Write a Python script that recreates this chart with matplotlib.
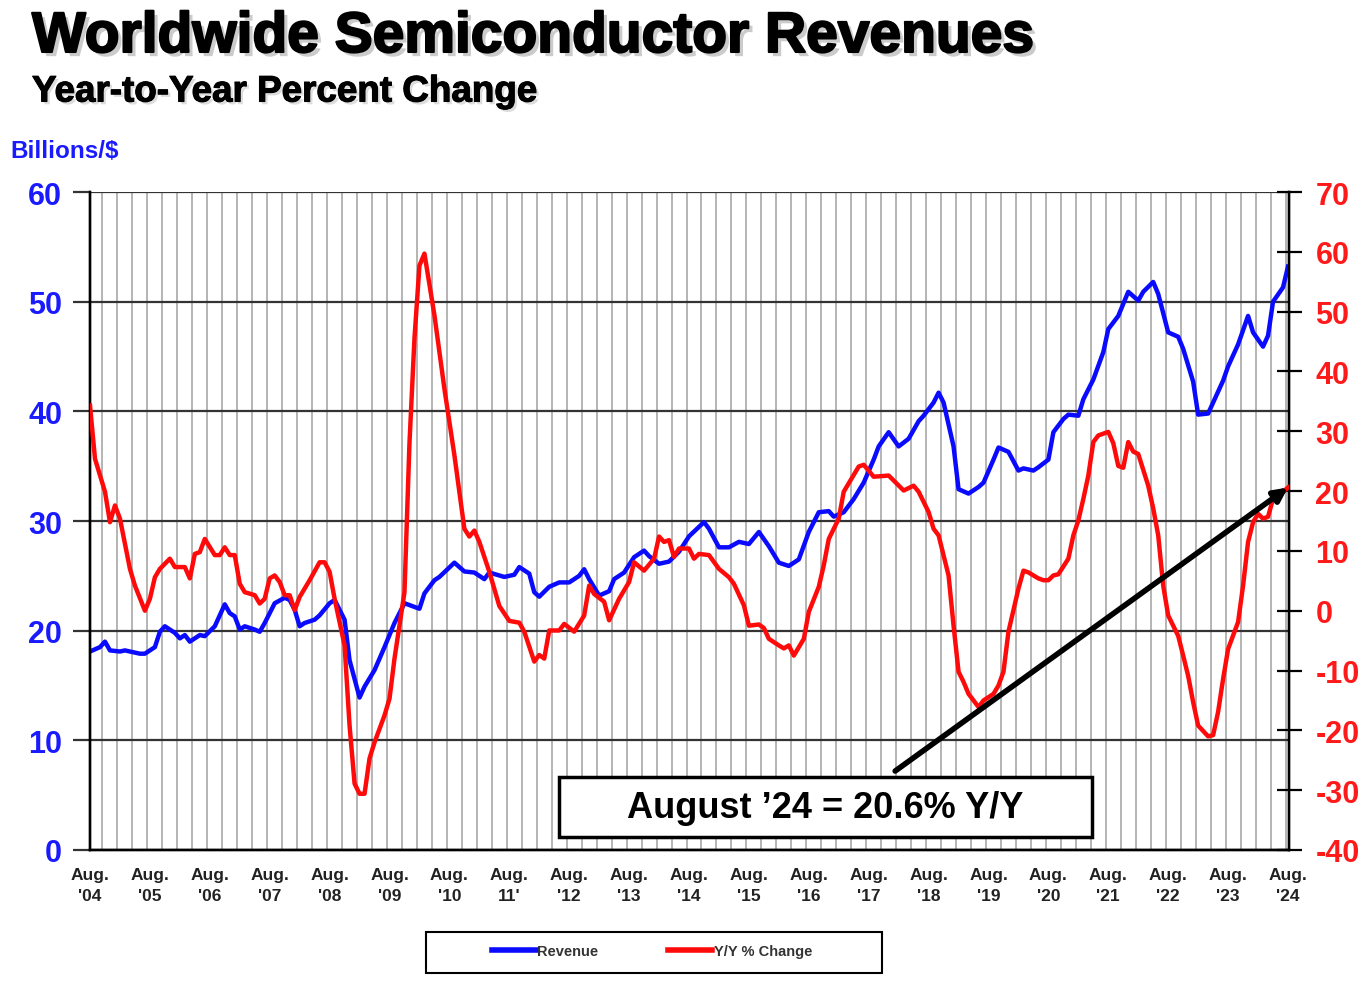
import matplotlib
matplotlib.use('Agg')
import matplotlib.pyplot as plt
import matplotlib.patheffects as pe
from matplotlib.patches import Rectangle
from matplotlib.lines import Line2D

# months counted from Aug 2004 (0) to Aug 2024 (240)
rev_month = [0, 2, 3, 4, 6, 7, 9, 10, 11, 13, 14, 15, 17, 18, 19, 20, 22, 23, 25, 27, 28, 29, 30, 31, 33, 34, 35,
             37, 39, 40, 41, 42, 43, 45, 46, 48, 49, 51, 52, 54, 55, 57, 59, 61, 63, 66, 67, 69, 70, 73, 75, 77,
             79, 80, 83, 85, 86, 88, 89, 90, 92, 94, 96, 98, 99, 100, 102, 104, 105, 107, 109, 111, 112, 114, 116,
             118, 120, 123, 124, 126, 128, 130, 132, 134, 136, 138, 140, 142, 144, 146, 148, 149, 151, 153, 155,
             157, 158, 160, 162, 164, 166, 167, 169, 170, 171, 173, 174, 176, 178, 179, 181, 182, 184, 186, 187,
             189, 190, 192, 193, 195, 196, 198, 199, 201, 203, 204, 206, 208, 210, 211, 213, 214, 216, 218, 219,
             221, 222, 224, 225, 227, 228, 230, 232, 233, 235, 236, 237, 239, 240]
revenue = [18.1, 18.5, 19.0, 18.2, 18.1, 18.2, 18.0, 17.9, 17.9, 18.5, 19.9, 20.4, 19.8, 19.3, 19.6, 19.0, 19.6,
           19.5, 20.4, 22.4, 21.6, 21.3, 20.1, 20.4, 20.1, 19.9, 20.7, 22.5, 23.0, 22.8, 21.9, 20.4, 20.7, 21.0,
           21.4, 22.5, 22.8, 21.0, 17.3, 13.9, 14.9, 16.4, 18.5, 20.7, 22.5, 22.0, 23.4, 24.6, 24.9, 26.2, 25.4,
           25.3, 24.7, 25.3, 24.9, 25.1, 25.8, 25.2, 23.5, 23.1, 24.0, 24.4, 24.4, 25.0, 25.6, 24.7, 23.2, 23.6,
           24.7, 25.3, 26.7, 27.3, 26.8, 26.1, 26.3, 27.2, 28.6, 29.9, 29.3, 27.6, 27.6, 28.1, 27.9, 29.0, 27.7,
           26.2, 25.9, 26.5, 29.0, 30.8, 30.9, 30.4, 30.8, 32.0, 33.5, 35.6, 36.8, 38.1, 36.8, 37.5, 39.1, 39.6,
           40.8, 41.7, 40.8, 36.8, 32.9, 32.5, 33.1, 33.5, 35.6, 36.7, 36.3, 34.6, 34.8, 34.6, 34.9, 35.6, 38.1,
           39.3, 39.7, 39.6, 41.1, 42.9, 45.4, 47.5, 48.7, 50.9, 50.1, 50.9, 51.8, 50.7, 47.2, 46.8, 45.7, 42.7,
           39.7, 39.8, 40.8, 42.8, 44.1, 46.1, 48.7, 47.2, 45.9, 46.9, 50.0, 51.3, 53.2]

yoy_month = [0, 1, 3, 4, 5, 6, 8, 9, 11, 12, 13, 14, 16, 17, 19, 20, 21, 22, 23, 25, 26, 27, 28, 29, 30, 31, 33,
             34, 35, 36, 37, 38, 39, 40, 41, 42, 44, 46, 47, 48, 49, 51, 52, 53, 54, 55, 56, 57, 59, 60, 61, 63,
             64, 65, 66, 67, 69, 71, 73, 75, 76, 77, 78, 80, 82, 84, 86, 87, 89, 90, 91, 92, 94, 95, 97, 99, 100,
             101, 103, 104, 106, 108, 109, 111, 113, 114, 115, 116, 117, 118, 120, 121, 122, 124, 126, 128, 129,
             131, 132, 134, 135, 136, 138, 139, 140, 141, 143, 144, 146, 147, 148, 150, 151, 154, 155, 157, 160,
             163, 165, 166, 168, 169, 170, 172, 173, 174, 175, 176, 178, 179, 181, 182, 183, 184, 186, 187, 188,
             190, 191, 192, 193, 194, 196, 197, 198, 199, 200, 201, 202, 204, 205, 206, 207, 208, 209, 210, 212,
             213, 214, 215, 216, 218, 219, 220, 221, 222, 224, 225, 226, 227, 228, 230, 231, 232, 233, 234, 235,
             236, 237, 238, 240]
yoy = [34.3, 25.4, 19.9, 14.8, 17.6, 15.4, 7.0, 4.2, 0.0, 2.0, 5.6, 7.0, 8.7, 7.3, 7.3, 5.4, 9.5, 9.8, 12.0, 9.3,
       9.3, 10.6, 9.3, 9.3, 4.5, 3.1, 2.6, 1.2, 2.0, 5.4, 5.9, 4.8, 2.6, 2.6, 0.1, 2.3, 5.1, 8.1, 8.1, 6.5, 2.0,
       -5.8, -19.2, -28.9, -30.6, -30.6, -24.7, -22.0, -17.5, -14.7, -8.0, 3.1, 28.0, 45.5, 57.7, 59.7, 49.4,
       37.1, 26.0, 13.7, 12.4, 13.4, 11.5, 6.5, 0.8, -1.7, -2.0, -3.5, -8.5, -7.4, -8.0, -3.3, -3.3, -2.2, -3.5,
       -0.8, 4.2, 2.8, 1.5, -1.6, 2.0, 4.8, 8.1, 6.7, 8.7, 12.4, 11.5, 11.8, 9.0, 10.4, 10.4, 8.7, 9.5, 9.3, 7.0,
       5.6, 4.5, 0.9, -2.5, -2.3, -2.9, -4.7, -5.8, -6.3, -5.8, -7.5, -4.7, -0.2, 4.0, 7.6, 12.0, 15.4, 19.9,
       24.1, 24.4, 22.4, 22.6, 20.1, 20.9, 19.9, 16.5, 13.7, 12.6, 5.9, -2.5, -10.2, -11.9, -13.9, -16.1, -15.0,
       -13.9, -12.5, -10.2, -3.5, 3.7, 6.7, 6.4, 5.4, 5.1, 5.1, 5.9, 6.1, 8.7, 12.6, 15.1, 18.7, 22.6, 28.2,
       29.3, 29.9, 28.0, 24.2, 23.9, 28.2, 26.6, 26.2, 20.9, 17.1, 12.6, 4.2, -0.8, -4.2, -7.5, -10.9, -15.3,
       -19.2, -21.0, -20.8, -16.9, -11.4, -6.4, -1.9, 4.2, 11.5, 14.8, 16.2, 15.4, 15.7, 18.7, 19.2, 20.6]

year_ticks = list(range(0, 241, 12))
year_labels = ["Aug.\n'04", "Aug.\n'05", "Aug.\n'06", "Aug.\n'07", "Aug.\n'08", "Aug.\n'09", "Aug.\n'10",
               "Aug.\n11'", "Aug.\n'12", "Aug.\n'13", "Aug.\n'14", "Aug.\n'15", "Aug.\n'16", "Aug.\n'17",
               "Aug.\n'18", "Aug.\n'19", "Aug.\n'20", "Aug.\n'21", "Aug.\n'22", "Aug.\n'23", "Aug.\n'24"]

plt.rcParams['font.family'] = ['Liberation Sans', 'DejaVu Sans']
plt.rcParams['axes.unicode_minus'] = False

fig = plt.figure(figsize=(13.65, 9.87), dpi=100)
ax = fig.add_axes([90 / 1365, 1 - 851 / 987, 1199 / 1365, 658 / 987])
ax2 = ax.twinx()

# grid: quarterly vertical lines, dark horizontal lines
ax.set_xlim(0, 240.2)
ax.set_ylim(0, 60)
ax.set_xticks(year_ticks)
ax.set_xticklabels(year_labels, fontsize=12.5, fontweight='bold', color='#222222', linespacing=1.5)
ax.set_xticks([2.5 + 3 * k for k in range(80)], minor=True)
ax.tick_params(axis='x', which='both', length=0, pad=12)
ax.grid(which='minor', axis='x', color='#a8a8a8', lw=1.2)
ax.set_yticks(range(0, 61, 10))
ax.grid(which='major', axis='y', color='#333333', lw=1.6)
ax.tick_params(axis='y', direction='out', length=12, width=1.6, color='#333333',
               labelsize=22, labelcolor='#1a1aff', pad=8)
for t in ax.get_yticklabels():
    t.set_fontweight('bold')
ax.set_axisbelow(True)

ax2.set_ylim(-40, 70)
ax2.set_yticks(range(-40, 71, 10))
ax2.tick_params(axis='y', direction='inout', length=18, width=1.6, color='black',
                labelsize=22, labelcolor='#ff1a1a', pad=10)
for t in ax2.get_yticklabels():
    t.set_fontweight('bold')

for a in (ax, ax2):
    a.spines['top'].set_visible(False)
    for s in ('left', 'bottom', 'right'):
        a.spines[s].set_linewidth(1.7)
        a.spines[s].set_color('black')

ax.plot(rev_month, revenue, color='#0a0aff', lw=3.2, solid_joinstyle='round', zorder=3)
ax2.plot(yoy_month, yoy, color='#ff0a0a', lw=3.2, solid_joinstyle='round', zorder=3)

# arrow pointing at the latest value
ax2.annotate('', xy=(240, 20.6), xytext=(161.3, -26.8),
             arrowprops=dict(arrowstyle='-|>', lw=4, color='black', mutation_scale=20,
                             shrinkA=0, shrinkB=0), zorder=5)

# callout box
fig.add_artist(Rectangle((559 / 1365, 1 - 838 / 987), 533 / 1365, 60 / 987, transform=fig.transFigure,
                         facecolor='white', edgecolor='black', lw=2.5, zorder=5))
fig.text(825 / 1365, 1 - 808 / 987, 'August \u201924 = 20.6% Y/Y', fontsize=26, fontweight='bold',
         ha='center', va='center', zorder=6)

# titles
fig.text(32 / 1365, 1 - 38 / 987, 'Worldwide Semiconductor Revenues', fontsize=41, fontweight='bold',
         va='center', ha='left',
         path_effects=[pe.withSimplePatchShadow(offset=(3, -3), shadow_rgbFace='#999999', alpha=0.5),
                       pe.Stroke(linewidth=1.5, foreground='black'), pe.Normal()])
fig.text(32 / 1365, 1 - 93 / 987, 'Year-to-Year Percent Change', fontsize=26.5, fontweight='bold',
         va='center', ha='left',
         path_effects=[pe.withSimplePatchShadow(offset=(2, -2), shadow_rgbFace='#aaaaaa', alpha=0.4),
                       pe.Stroke(linewidth=0.8, foreground='black'), pe.Normal()])
fig.text(10 / 1365, 1 - 152 / 987, 'Billions/$', fontsize=17.5, fontweight='bold', color='#1a1aff',
         va='center', ha='left')

# legend box
fig.add_artist(Rectangle((426 / 1365, 1 - 974 / 987), 456 / 1365, 41 / 987, transform=fig.transFigure,
                         facecolor='white', edgecolor='black', lw=1.5))
handles = [Line2D([], [], color='#0a0aff', lw=4), Line2D([], [], color='#ff0a0a', lw=4)]
fig.legend(handles, ['Revenue', 'Y/Y % Change'], loc='center', bbox_to_anchor=(652 / 1365, 1 - 952 / 987),
           ncol=2, frameon=False, handlelength=3.0, handletextpad=0.1, columnspacing=4.8,
           prop={'size': 10.5, 'weight': 'bold'}, labelcolor='#333333')

fig.savefig('out.png', dpi=100)
